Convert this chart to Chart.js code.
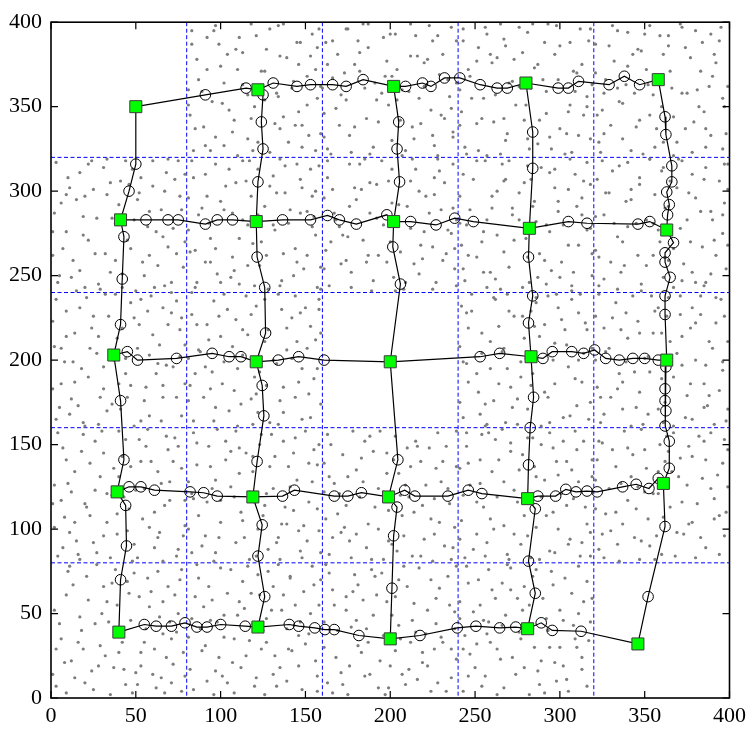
<!DOCTYPE html>
<html><head><meta charset="utf-8">
<script src="https://cdn.jsdelivr.net/npm/chart.js@4/dist/chart.umd.min.js"></script>
<style>html,body{margin:0;padding:0;background:#fff}#fl{font-family:'Liberation Serif';position:absolute;left:-999px;top:0}</style>
</head><body>
<span id="fl">0123456789</span>
<canvas id="c" width="751" height="733"></canvas>
<script>
// ---- data ----
const tickStep = 50;
const axisMin = 0, axisMax = 400;
const cellLines = [80,160,240,320];

// cluster heads (green squares)
const nodesX = [50,122,202,280,358, 41,121,202,282,363, 37,121,200,283,363, 39,119,199,281,361, 40,122,200,281,346];
const nodesY = [350,360,362,364,366, 283,282,282,278,277, 203,199,199,202,200, 122,119,119,118,127, 39,42,35,41,32];

// horizontal paths (nodes + circles)
const row1 = [[50,350],[91,357],[115,361],[122,360],[131,364],[145,362],[153,363],[166,363],[174,362],[184,366],[202,362],[209,362],[219,364],[224,362],[232,367],[241,367],[253,363],[263,361],[269,361],[280,364],[299,361],[305,361],[311,365],[329,363],[338,368],[347,363],[358,366]];
const row2 = [[41,283],[56,283],[69,283],[75,283],[91,280.5],[98,283],[107,283],[121,282],[136.5,283],[153,283],[163,285.6],[170,283],[180,280.5],[198,286],[202,282],[212,282],[227,280],[238,284],[249,282],[282,278],[305,282],[316,281],[346,280.5],[353,282],[363,277]];
const row3 = [[37,203],[45,205],[51,200],[74,201],[95,204],[105,202],[112,202],[121,199],[134,200],[146,202],[161,200],[200,199],[253,202],[264.5,204],[283,202],[290,201],[295.5,205],[307,205],[314,204],[320.5,206],[327,201],[335,200],[343,201],[350,201],[358,200],[363,200]];
const row4 = [[39,122],[46,125],[53,125],[61,123],[82,122],[90,121.5],[98,119.5],[119,119],[136.5,119.5],[143.5,123],[167,119.5],[175,119.5],[183,121.5],[199,119],[208.5,123],[214.5,119.5],[234,119.5],[246,123],[254,121],[281,118],[287,119.5],[297.5,119.5],[303.5,123.5],[309.5,122],[316,122.5],[322,122],[337,125],[345,126.5],[352.5,124],[358,130],[361,127]];
const row5 = [[40,39],[55,43.5],[62,42.5],[71,42.5],[79,44.5],[86,42],[92,42],[100,43.5],[114.5,42.5],[122,42],[140.5,43.5],[146,42.5],[155.5,41.5],[161.5,40.5],[167,40.5],[181.5,37],[200,35],[217.5,37],[239.5,41.5],[250.5,42.5],[264.5,41.5],[274,42],[281,41],[289,44.5],[295.5,40],[312.5,39.5],[346,32]];
// vertical paths
const col1 = [[50,350],[50,316],[46,300],[41,283],[43,273],[42,248],[41,221],[37,203],[41,176],[43,141],[39,122],[44,114],[44.5,90],[41,70],[40,39]];
const col2 = [[122,360],[125,357],[124,341],[125,325],[122,305.5],[121,282],[121.5,261],[126,243],[126.5,216],[121,199],[124.5,185],[125.5,167],[121.5,140],[119,119],[124.5,102.5],[122,84],[126,60],[122,42]];
const col3 = [[202,362],[205,341],[204,325],[205.5,305.5],[202,282],[201.5,267],[206,245],[200,199],[204.5,141],[199,119],[204,113],[202,96],[201,65],[200,35]];
const col4 = [[280,364],[284,335],[284,313.5],[282,278],[281.5,261],[284,238],[281.5,222],[283,202],[284.5,178],[282.5,160],[281.5,138],[281,118],[285.5,112],[281.5,81],[285.5,62],[281,41]];
const col5 = [[358,366],[362,344],[362.5,333.5],[366,315],[366,305.5],[363,299.5],[364.5,292],[363.5,286],[363,277],[367,269.5],[362,263.5],[362,258],[365,249],[362,238],[362,227],[363,200],[362.5,196],[362,183],[362,176],[362.5,170],[362,161],[364.5,152],[364.5,136],[361,127],[362,101.5],[352,60],[346,32]];

// background sensor field (gray dots), x,y pairs, estimated cell by cell
const dotXY = [
3,7,12,22,25,5,37,18,48,3,60,14,71,9,78,27,6,35,17,48,29,31,41,40,53,27,66,38,75,50,9,61,21,72,33,57,45,69,58,54,69,66,77,76,14,12,31,66,50,15,63,75,2,52,38,76,56,41,72,20,19,29,44,8,26,44,67,3,11,78,52,60,35,2,74,39,8,21,61,29,
84,5,97,16,108,3,121,12,133,7,146,19,157,4,89,28,102,36,115,25,127,33,140,29,152,38,83,47,95,58,110,49,123,61,136,52,149,63,158,55,87,71,100,77,113,69,128,75,141,72,154,78,92,10,119,44,135,18,104,62,147,45,81,36,126,2,156,22,98,45,116,78,139,41,107,21,131,66,90,54,
163,9,175,2,188,14,199,6,211,17,224,4,236,12,168,24,181,31,194,22,206,35,219,27,231,33,161,45,174,52,186,41,201,49,214,56,227,44,238,51,166,64,179,73,192,61,205,70,217,77,229,65,171,15,196,37,222,19,184,58,209,8,234,72,162,79,189,76,215,39,177,42,203,60,226,29,197,2,239,23,
243,4,256,13,267,6,279,18,291,3,304,11,316,7,247,26,259,33,272,24,285,30,297,21,309,35,241,47,253,55,266,43,278,52,290,59,302,46,314,57,246,68,258,76,271,64,284,72,296,67,311,78,250,18,276,39,300,30,262,59,288,8,318,45,244,37,269,79,307,62,282,2,255,46,293,40,313,24,263,29,
4,84,15,93,27,86,39,97,51,83,63,95,75,88,8,107,20,115,33,104,46,112,58,101,70,117,2,126,14,134,26,123,40,131,53,140,65,127,77,136,7,148,19,156,31,145,44,153,57,159,69,147,11,98,36,120,61,110,23,139,49,91,73,154,1,115,30,158,66,81,17,82,55,124,79,102,42,143,9,141,
83,86,96,81,109,92,121,84,134,95,147,87,158,99,87,108,100,117,113,105,126,114,139,103,152,116,81,128,94,137,106,125,119,134,132,143,145,129,157,138,86,151,98,159,111,148,124,156,137,152,150,158,91,96,117,122,143,111,103,141,128,88,155,147,84,118,109,158,148,83,97,129,122,100,140,137,115,145,131,124,
164,85,176,93,189,82,201,91,213,84,226,97,237,89,162,106,174,114,187,103,199,111,211,119,224,106,235,115,167,127,180,135,193,124,205,133,218,140,230,128,239,137,165,150,178,158,190,146,203,155,216,149,228,157,171,98,196,122,221,126,183,142,208,96,233,149,161,139,186,89,214,110,170,121,198,145,225,81,238,101,
244,83,257,92,269,85,281,96,294,87,306,94,318,84,242,105,255,113,267,102,280,117,292,108,304,114,316,103,247,126,260,134,273,123,286,131,298,140,311,128,245,149,258,157,271,146,284,154,296,148,309,158,319,141,251,97,276,135,301,121,263,119,288,82,314,152,241,136,266,159,299,100,253,141,279,108,307,135,289,150,
323,88,335,81,348,93,360,85,373,97,386,89,397,96,327,109,340,117,352,106,365,113,378,104,391,118,321,129,333,137,346,125,358,134,371,142,384,130,396,139,325,151,338,158,350,147,363,155,376,149,389,157,330,99,355,121,381,115,343,144,368,84,394,108,322,141,357,96,385,152,336,127,370,131,399,125,347,82,362,140,
3,165,16,173,28,162,41,171,53,164,66,178,77,167,6,186,18,195,31,183,44,192,56,184,68,197,2,208,14,216,27,204,39,213,52,221,64,209,76,218,9,229,21,237,34,226,47,234,59,238,71,228,12,177,37,200,62,192,24,219,49,161,74,235,1,223,32,239,58,203,19,163,45,178,79,186,66,231,8,199,
84,164,97,172,110,161,122,169,135,176,148,165,159,174,82,185,95,193,108,182,120,190,133,198,146,187,157,195,87,206,100,214,113,203,126,211,139,219,151,207,83,227,96,235,109,224,121,232,134,239,147,228,158,236,90,178,116,215,142,201,104,230,129,163,153,220,81,201,118,177,144,238,92,221,137,184,156,212,102,199,
243,166,256,174,268,163,281,171,293,178,306,167,318,175,246,187,259,195,271,184,284,192,296,200,309,189,241,208,254,216,266,205,279,213,291,221,304,209,316,218,248,229,261,237,273,226,286,234,298,239,311,228,252,181,277,199,301,224,264,220,289,161,314,204,242,232,269,239,297,186,257,162,283,229,312,239,245,198,275,177,
324,163,337,171,349,162,362,175,374,166,387,173,398,164,322,184,335,192,347,181,360,189,372,197,385,186,396,194,327,205,340,213,352,202,365,211,377,219,390,207,321,226,333,234,346,223,358,231,371,238,383,227,395,236,330,178,355,216,380,200,343,238,367,161,392,222,326,219,352,168,378,231,339,199,363,226,388,179,399,211,
4,246,17,253,29,242,42,251,54,258,67,244,78,255,7,266,19,274,32,263,45,271,57,279,69,267,2,287,15,295,27,284,40,292,52,299,65,289,76,297,10,308,22,316,35,305,48,313,60,318,73,307,13,259,38,281,62,276,25,301,50,241,75,318,1,276,33,319,58,262,20,243,46,304,79,270,68,311,9,298,
85,243,98,251,111,245,123,256,136,247,149,254,159,242,82,264,94,272,107,261,119,269,132,277,144,266,156,274,87,286,100,294,113,283,126,291,138,299,151,288,84,308,97,316,109,305,122,313,135,319,147,307,158,315,91,258,116,280,141,289,103,303,128,242,154,297,81,296,117,318,145,258,93,281,131,309,155,285,106,249,
164,244,177,252,189,241,202,249,214,257,227,246,238,254,162,265,175,273,187,262,200,270,212,278,225,267,236,275,167,287,180,295,192,284,205,292,217,300,230,289,163,308,176,316,188,305,201,313,213,319,226,308,237,316,171,257,196,280,221,297,183,301,208,242,233,263,161,296,185,319,219,260,170,279,198,258,229,312,239,283,
244,247,257,243,270,255,282,246,295,253,307,241,319,250,242,268,255,276,267,264,280,272,292,280,305,268,316,277,247,289,260,297,272,286,285,294,297,302,310,291,243,310,256,318,268,307,281,315,294,311,306,319,318,304,251,261,276,283,301,258,263,300,288,263,313,296,241,281,266,316,299,288,259,252,279,305,309,310,287,249,
323,244,336,252,348,241,361,249,373,257,386,246,398,254,321,265,334,273,346,262,359,270,371,278,384,267,396,275,326,286,339,294,351,283,364,291,376,299,389,288,322,307,335,315,347,304,360,312,372,318,385,307,397,316,330,258,355,281,380,296,342,301,367,243,392,262,327,299,353,319,378,252,340,279,365,306,390,283,399,301,
84,324,97,332,110,321,122,329,135,337,148,326,159,334,82,345,95,353,108,342,120,350,133,358,146,347,157,355,87,366,100,374,113,363,126,371,139,379,151,368,83,387,96,395,109,384,121,392,134,398,147,388,158,396,90,338,116,357,142,361,104,381,129,323,153,380,81,360,118,399,144,339,92,391,137,344,156,372,102,327,
163,325,176,333,188,322,201,330,213,338,226,327,237,335,161,346,174,354,186,343,199,351,211,359,224,348,235,356,166,367,179,375,191,364,204,372,216,380,229,369,162,388,175,396,187,385,200,393,212,399,225,389,236,397,170,339,195,358,220,376,182,382,207,321,232,343,160,361,184,399,218,340,169,381,197,368,228,392,239,364,
244,326,257,321,269,334,282,325,294,332,307,323,318,331,242,347,255,355,267,343,280,351,292,359,305,347,316,356,247,368,260,376,272,365,285,373,297,381,310,370,243,389,256,397,268,386,281,394,293,399,306,388,318,396,251,340,276,362,300,337,263,379,288,342,313,375,241,360,265,399,299,366,252,385,278,382,309,359,287,328,
324,323,337,331,349,322,361,329,374,337,386,326,398,334,322,345,335,353,347,342,360,350,372,358,385,347,396,355,327,366,340,374,352,363,365,371,377,379,390,368,321,387,334,395,346,384,359,392,371,399,384,388,395,397,330,339,355,357,381,360,343,381,367,321,392,376,326,358,353,398,379,341,339,363,364,386,389,393,399,316,
1,14,9,3,16,33,22,58,28,19,34,45,40,27,46,62,51,8,57,71,64,48,68,24,73,61,79,13,5,44,13,67,20,9,27,79,32,25,39,55,43,17,49,74,55,33,62,6,66,57,71,35,76,70,3,29,10,75,18,40,24,16,30,50,36,68,47,46,53,19,59,63,65,12,70,45,77,4,42,33,
82,17,88,41,93,66,99,24,104,9,111,57,117,34,122,73,127,47,131,14,137,61,142,28,148,5,153,50,159,70,85,60,91,31,96,2,102,49,106,76,112,18,118,62,124,29,130,52,134,79,139,10,144,55,150,32,155,67,86,79,94,46,101,13,108,35,114,53,120,7,125,40,132,25,141,71,146,37,157,13,
161,30,167,55,172,8,178,63,183,27,190,49,195,74,200,19,205,43,210,66,216,11,221,38,227,59,233,4,238,41,164,74,169,40,176,19,181,67,187,33,193,6,198,57,203,28,208,78,213,46,219,21,224,70,230,36,235,55,239,78,166,3,174,60,185,13,191,72,207,14,212,33,222,52,228,9,236,29,180,46,
241,57,246,13,252,70,257,38,263,2,268,49,274,14,279,66,284,41,289,22,295,75,300,52,305,4,310,30,316,69,243,29,249,51,254,7,260,64,265,23,271,77,277,35,282,55,287,16,292,47,298,10,303,71,308,43,313,17,319,59,245,78,251,32,258,45,266,68,275,59,286,76,294,30,302,19,311,50,317,34,
2,101,7,89,12,122,18,146,23,108,29,131,35,83,40,158,45,99,50,123,56,149,61,89,67,114,72,140,78,96,4,157,10,127,16,85,21,113,26,152,31,96,37,136,43,119,48,81,54,106,59,140,64,98,70,128,75,149,79,117,6,117,14,104,25,92,33,121,39,109,47,137,52,153,63,134,68,155,74,84,
81,100,86,138,92,116,97,86,103,152,108,119,114,95,119,143,125,108,130,156,135,82,141,125,146,99,152,139,157,112,84,157,89,90,95,124,100,104,106,146,111,133,117,82,123,150,127,121,133,92,138,113,144,154,149,102,154,128,159,86,83,121,93,149,99,95,112,110,120,116,129,137,136,103,143,145,151,93,158,150,
161,122,166,95,172,144,177,83,182,119,188,155,193,100,198,133,204,87,209,126,215,152,220,94,226,118,231,140,236,82,163,156,169,109,175,131,180,97,185,152,191,113,196,82,202,141,207,108,212,137,218,84,223,148,229,104,234,124,239,158,164,131,173,101,184,128,194,158,199,93,210,148,219,114,227,136,232,90,206,120,
241,94,246,139,251,116,256,84,262,153,267,128,273,97,278,144,283,83,289,119,294,157,299,132,305,91,310,147,315,113,243,120,249,88,254,156,259,106,264,141,270,82,275,116,281,154,286,101,291,129,297,86,302,152,308,118,313,92,319,131,245,157,253,127,261,100,271,151,277,91,285,137,296,110,304,140,312,84,318,98,
321,112,326,83,331,147,337,103,342,131,348,159,353,90,358,121,364,146,369,98,375,126,380,83,386,141,391,106,397,153,323,152,329,124,334,91,340,148,345,112,351,136,356,82,361,107,367,157,372,116,378,143,383,95,389,124,394,85,399,147,325,97,333,110,344,95,350,122,359,150,366,134,376,103,382,155,393,132,398,110,
1,183,6,207,11,168,17,231,22,190,28,214,33,170,38,239,44,201,49,225,55,176,60,215,66,185,71,240,76,202,3,236,9,214,14,187,20,161,25,226,31,196,36,174,42,219,47,185,53,236,58,167,63,198,69,221,74,178,79,209,5,172,13,199,23,207,29,178,40,186,51,207,57,229,65,164,72,196,77,225,
81,176,86,221,91,196,96,164,102,239,107,208,112,174,118,227,123,193,128,218,134,162,139,206,144,178,150,231,155,189,83,240,88,205,94,183,99,226,105,170,110,195,115,238,121,180,126,236,131,200,137,169,142,225,148,195,153,166,159,216,85,192,93,212,101,186,113,218,119,162,127,185,136,230,145,211,152,180,158,230,
241,175,246,219,251,192,256,161,262,236,267,207,272,172,278,226,283,185,288,214,294,163,299,231,305,196,310,173,315,222,243,199,248,239,253,168,259,211,264,186,270,229,275,162,280,201,286,237,291,181,297,210,302,166,307,236,313,187,319,207,245,228,254,204,261,176,269,195,285,220,293,238,303,218,311,200,317,165,277,190,
321,200,326,168,331,225,337,187,342,161,347,216,353,193,358,171,364,237,369,204,375,179,380,222,386,197,391,162,397,226,323,239,329,207,334,183,339,228,345,172,350,201,356,229,361,163,367,190,372,214,378,165,383,238,388,211,394,182,399,171,324,178,336,218,344,193,354,238,360,216,371,227,377,186,385,172,392,237,396,199,
1,262,6,293,12,249,17,311,22,271,28,245,33,298,38,259,44,318,49,283,55,250,60,303,66,273,71,246,77,289,3,317,9,276,15,241,20,297,26,263,31,314,36,284,42,243,47,266,53,308,58,288,63,256,69,319,74,263,79,310,5,250,11,302,19,285,24,318,35,252,41,306,51,295,61,243,67,300,72,278,
81,277,86,246,91,310,97,266,102,289,108,253,113,318,118,297,124,270,129,303,135,244,140,281,145,316,151,262,156,300,83,318,89,290,94,258,100,246,105,313,111,272,116,256,122,286,127,262,133,299,138,315,143,250,148,302,154,279,159,255,85,265,92,297,107,287,115,306,120,244,131,280,137,263,147,287,153,313,157,243,
161,254,166,301,172,274,177,243,182,316,188,287,193,262,199,306,204,281,209,246,215,313,220,276,226,298,231,259,237,290,163,318,168,283,174,259,179,302,184,271,190,247,195,318,201,293,206,264,212,306,217,251,223,287,228,319,234,277,239,244,165,270,176,291,186,258,192,304,203,241,210,291,218,268,225,242,232,305,238,266,
241,297,246,262,251,318,257,283,262,248,267,306,273,271,278,243,284,291,289,314,294,276,300,249,305,301,311,268,316,317,243,254,249,307,254,270,260,290,265,242,270,318,276,299,281,261,286,282,292,245,297,313,302,280,308,252,313,286,319,263,245,280,255,252,263,274,272,290,283,307,291,259,299,294,307,244,314,306,318,278,
321,285,326,248,331,312,337,270,342,295,348,245,353,319,358,277,364,259,369,302,375,283,380,246,386,314,391,271,397,293,323,261,329,299,334,242,340,317,345,281,351,256,356,298,361,314,367,266,372,247,378,310,383,288,389,251,394,306,399,268,325,318,332,281,338,256,347,308,355,262,362,290,370,319,377,270,385,244,396,286,
81,351,86,378,91,327,97,398,102,364,107,335,113,382,118,343,124,371,129,396,134,356,140,329,145,388,151,351,156,324,83,395,89,359,94,324,99,387,105,348,110,372,116,331,121,361,127,384,132,340,137,399,143,365,148,339,154,393,159,362,85,337,92,372,101,352,111,391,119,324,126,354,135,380,146,375,152,333,157,385,
161,332,166,389,171,357,177,323,182,371,187,399,193,341,198,377,204,354,209,324,215,392,220,362,225,333,231,381,236,349,163,375,168,349,174,396,179,338,185,361,190,326,196,391,201,368,206,342,212,380,217,355,223,398,228,321,234,366,239,389,165,322,173,370,181,389,192,354,203,393,214,331,222,378,230,345,237,332,207,360,
241,339,246,372,252,324,257,393,262,357,268,330,273,378,279,342,284,399,290,366,295,325,300,386,306,351,311,333,317,389,243,396,248,355,254,343,259,381,265,322,270,364,276,397,281,331,287,375,292,346,298,398,303,322,308,371,314,345,319,363,245,322,251,377,261,341,267,390,274,351,283,361,291,388,304,334,312,396,316,350,
321,370,326,334,331,398,337,352,342,324,348,383,353,345,358,367,364,392,369,329,375,358,380,395,386,337,391,381,397,350,323,329,329,386,334,361,340,394,345,338,351,372,356,326,361,381,367,344,372,397,378,323,383,371,389,333,394,389,399,362,325,348,332,377,344,358,350,393,357,337,366,361,374,385,382,350,388,362,396,325
];

// ---- build datasets ----
const paths = [row1,row2,row3,row4,row5,col1,col2,col3,col4,col5];
const nodeKeys = new Set(nodesX.map((x,i)=>x+','+nodesY[i]));
const circlePts = [];
paths.forEach(p=>p.forEach(([x,y])=>{ if(!nodeKeys.has(x+','+y)) circlePts.push({x,y}); }));
const dotPts = [];
for (let i=0;i<dotXY.length;i+=2) dotPts.push({x:dotXY[i], y:dotXY[i+1]});
const nodePts = nodesX.map((x,i)=>({x, y:nodesY[i]}));

const datasets = [];
datasets.push({type:'scatter', data:nodePts, order:1, pointStyle:'rect', pointRadius:8.5, pointHoverRadius:8.5,
  backgroundColor:'#00ff00', borderColor:'#3c3c3c', borderWidth:1});
datasets.push({type:'scatter', data:circlePts, order:2, pointStyle:'circle', pointRadius:5.3, pointHoverRadius:5.3,
  backgroundColor:'rgba(0,0,0,0)', borderColor:'#000', borderWidth:1});
paths.forEach(p=>datasets.push({type:'scatter', data:p.map(([x,y])=>({x,y})), order:3, showLine:true,
  pointRadius:0, pointHoverRadius:0, borderColor:'#000', borderWidth:1.2, tension:0, fill:false}));
datasets.push({type:'scatter', data:dotPts, order:4, pointStyle:'circle', pointRadius:1.6, pointHoverRadius:1.6,
  backgroundColor:'#7d7d7d', borderWidth:0});

const framePlugin = {
  id:'frame',
  beforeDatasetsDraw(chart){
    const {ctx, chartArea:{left,right,top,bottom}, scales:{x,y}} = chart;
    ctx.save();
    ctx.strokeStyle='#0000ff';
    ctx.lineWidth=1;
    ctx.setLineDash([4,2.5]);
    ctx.beginPath();
    cellLines.forEach(v=>{
      const px=x.getPixelForValue(v); ctx.moveTo(px,top); ctx.lineTo(px,bottom);
      const py=y.getPixelForValue(v); ctx.moveTo(left,py); ctx.lineTo(right,py);
    });
    ctx.stroke();
    ctx.restore();
  },
  afterDatasetsDraw(chart){
    const {ctx, chartArea:{left,right,top,bottom}, scales:{x,y}} = chart;
    ctx.save();
    ctx.strokeStyle='#000';
    ctx.lineWidth=1.2;
    ctx.beginPath();
    x.ticks.forEach(t=>{const p=x.getPixelForValue(t.value); ctx.moveTo(p,bottom); ctx.lineTo(p,bottom-7); ctx.moveTo(p,top); ctx.lineTo(p,top+7);});
    y.ticks.forEach(t=>{const p=y.getPixelForValue(t.value); ctx.moveTo(left,p); ctx.lineTo(left+7,p); ctx.moveTo(right,p); ctx.lineTo(right-7,p);});
    ctx.stroke();
    ctx.lineWidth=1.6;
    ctx.strokeRect(left,top,right-left,bottom-top);
    ctx.restore();
  }
};

const fam = "'Liberation Serif','Times New Roman',Times,serif";
Chart.defaults.font.family = fam;

function draw(){
  const font = {family:fam, size:22};
  new Chart(document.getElementById('c'), {
    type:'scatter',
    data:{datasets},
    options:{
      responsive:false, animation:false, events:[], devicePixelRatio:1,
      layout:{padding:{left:0, top:21, right:21, bottom:0}},
      plugins:{legend:{display:false}, tooltip:{enabled:false}},
      scales:{
        x:{type:'linear', position:'bottom', min:axisMin, max:axisMax,
           ticks:{stepSize:tickStep, font:{...font}, color:'#000', padding:5, maxRotation:0, autoSkip:false},
           grid:{display:false, drawTicks:false}, border:{display:false},
           afterFit(s){ s.height = 35; }},
        y:{type:'linear', position:'left', min:axisMin, max:axisMax,
           ticks:{stepSize:tickStep, font:{...font}, color:'#000', padding:9, autoSkip:false},
           grid:{display:false, drawTicks:false}, border:{display:false},
           afterFit(s){ s.width = 51; }}
      }
    },
    plugins:[framePlugin]
  });
}
const fontReady = (document.fonts && document.fonts.load) ? document.fonts.load("22px 'Liberation Serif'") : Promise.resolve();
Promise.race([fontReady, new Promise(r=>setTimeout(r,1500))]).then(draw, draw);
</script>
</body></html>
